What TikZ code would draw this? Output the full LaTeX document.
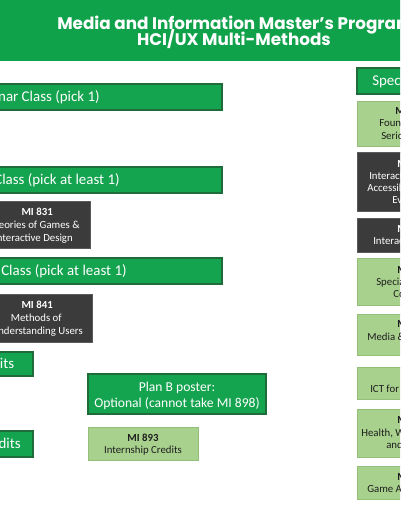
\documentclass[tikz,border=0pt]{standalone}
\usepackage{fontspec}
\setmainfont{Carlito}
\newfontfamily\titlefont{Poppins}
\usetikzlibrary{fit}
\definecolor{hgreen}{HTML}{10A24B}
\definecolor{bgreen}{HTML}{14A34F}
\definecolor{bborder}{HTML}{1F6B3A}
\definecolor{dgray}{HTML}{3B3B3B}
\definecolor{dborder}{HTML}{5A5A5A}
\definecolor{lgreen}{HTML}{A9D18E}
\definecolor{lborder}{HTML}{93BF78}
\definecolor{ltext}{HTML}{1E1E1E}
\begin{document}
\begin{tikzpicture}[x=0.75pt,y=-0.75pt,
  header/.style={fill=hgreen,draw=none,inner sep=0pt},
  bar/.style={draw=bborder,fill=bgreen,line width=0.9pt,inner sep=0pt},
  darkbox/.style={draw=dborder,fill=dgray,line width=0.6pt,inner sep=0pt},
  lightbox/.style={draw=lborder,fill=lgreen,line width=0.6pt,inner sep=0pt},
  titletext/.style={text=white,font=\titlefont\bfseries\fontsize{12.6}{14}\selectfont,inner sep=0pt},
  bartext/.style={text=white,font=\fontsize{11.2}{13}\selectfont,inner sep=0pt},
  plantext/.style={text=white,font=\fontsize{10.2}{12}\selectfont,inner sep=0pt},
  darktext/.style={text=white,font=\fontsize{8.1}{9}\selectfont,inner sep=0pt},
  darkhead/.style={darktext,font=\bfseries\fontsize{8.1}{9}\selectfont},
  lighttext/.style={text=ltext,font=\fontsize{8.1}{9}\selectfont,inner sep=0pt},
  lighthead/.style={lighttext,font=\bfseries\fontsize{8.1}{9}\selectfont}]
\useasboundingbox (0,0) rectangle (400,516);
\clip (0,0) rectangle (400,516);
\fill[white] (0,0) rectangle (400,516);

% header
\node[header,fit={(-10,-10) (410,61)}] (hdr) {};
\node[titletext,anchor=base west] (t1) at (57,29.5) {Media and Information Master’s Program};
\node[titletext,anchor=base] (t2) at (234,46) {HCI/UX Multi-Methods};

% left column
\node[bar,fit={(-150,84) (222,110)}] (bar1) {};
\node[bartext,anchor=base east] (bar1t) at (100,101.8) {Seminar Class (pick 1)};
\node[bar,fit={(-150,167) (222,193)}] (bar2) {};
\node[bartext,anchor=base east] (bar2t) at (120,184.8) {Design Class (pick at least 1)};
\node[darkbox,fit={(-30,201) (90,248)}] (mi831) {};
\node[darkhead,anchor=base east] (mi831a) at (53,215.5) {MI 831};
\node[darktext,anchor=base east] (mi831b) at (80,228.5) {Theories of Games \&};
\node[darktext,anchor=base east] (mi831c) at (73,241.5) {Interactive Design};
\node[bar,fit={(-150,258) (222,284)}] (bar3) {};
\node[bartext,anchor=base east] (bar3t) at (127,275.8) {Methods Class (pick at least 1)};
\node[darkbox,fit={(-30,294) (92,342)}] (mi841) {};
\node[darkhead,anchor=base east] (mi841a) at (53,308.5) {MI 841};
\node[darktext,anchor=base east] (mi841b) at (62,321.5) {Methods of};
\node[darktext,anchor=base east] (mi841c) at (83,334.5) {Understanding Users};
\node[bar,fit={(-150,352) (33,376)}] (cr1) {};
\node[bartext,anchor=base east] (cr1t) at (14.5,368.8) {Credits};
\node[bar,fit={(-150,431) (33,457)}] (cr2) {};
\node[bartext,anchor=base east] (cr2t) at (21,448.8) {Credits};

% middle
\node[bar,fit={(88,374) (266,414)}] (planb) {};
\node[plantext,anchor=base] (planb1) at (177,391) {Plan B poster:};
\node[plantext,anchor=base] (planb2) at (177,407) {Optional (cannot take MI 898)};
\node[lightbox,fit={(88,427) (198,460)}] (mi893) {};
\node[lighthead,anchor=base] (mi893a) at (143,441) {MI 893};
\node[lighttext,anchor=base] (mi893b) at (143,453.5) {Internship Credits};

% right column
\node[bar,fit={(357,68) (520,94)}] (spec) {};
\node[bartext,anchor=base west] (spect) at (372,85.5) {Specialization};
\node[lightbox,fit={(357,101) (470,146)}] (r1) {};
\node[lighthead,anchor=base west] (r1a) at (395,114.5) {MI};
\node[lighttext,anchor=base west] (r1b) at (379,127) {Foundations of};
\node[lighttext,anchor=base west] (r1c) at (381,139.5) {Serious Games};
\node[darkbox,fit={(357,152) (470,211)}] (r2) {};
\node[darkhead,anchor=base west] (r2a) at (397,167.5) {MI};
\node[darktext,anchor=base west] (r2b) at (369,179.5) {Interaction Design};
\node[darktext,anchor=base west] (r2c) at (367,191.5) {Accessibility \&};
\node[darktext,anchor=base west] (r2d) at (392,203.5) {Evaluation};
\node[darkbox,fit={(357,218) (470,252)}] (r3) {};
\node[darkhead,anchor=base west] (r3a) at (397,232.5) {MI};
\node[darktext,anchor=base west] (r3b) at (373,244) {Interaction};
\node[lightbox,fit={(357,258) (470,305)}] (r4) {};
\node[lighthead,anchor=base west] (r4a) at (397,273.5) {MI};
\node[lighttext,anchor=base west] (r4b) at (376,285.5) {Special Topics};
\node[lighttext,anchor=base west] (r4c) at (393,297.5) {Computing};
\node[lightbox,fit={(357,314) (470,355)}] (r5) {};
\node[lighthead,anchor=base west] (r5a) at (397,327.5) {MI};
\node[lighttext,anchor=base west] (r5b) at (367,340.5) {Media \& Information};
\node[lightbox,fit={(357,367) (470,399)}] (r6) {};
\node[lighttext,anchor=base west] (r6a) at (370,392.5) {ICT for Development};
\node[lightbox,fit={(357,409) (470,457)}] (r7) {};
\node[lighthead,anchor=base west] (r7a) at (397,423.5) {MI};
\node[lighttext,anchor=base west] (r7b) at (361,436.5) {Health, Wellbeing,};
\node[lighttext,anchor=base west] (r7c) at (386,448.5) {and Technology};
\node[lightbox,fit={(357,466) (470,499)}] (r8) {};
\node[lighthead,anchor=base west] (r8a) at (397,480.5) {MI};
\node[lighttext,anchor=base west] (r8b) at (367,492.5) {Game Analytics};
\end{tikzpicture}
\end{document}
